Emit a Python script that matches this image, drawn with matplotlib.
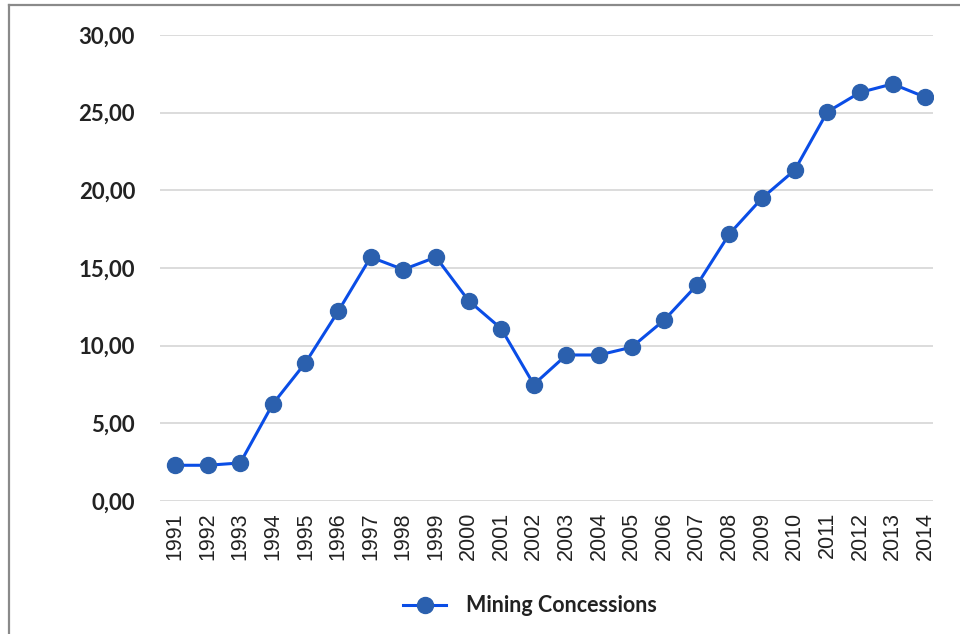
import matplotlib
matplotlib.use("Agg")
import matplotlib.pyplot as plt
from matplotlib.lines import Line2D

years = ["1991", "1992", "1993", "1994", "1995", "1996", "1997", "1998", "1999", "2000",
         "2001", "2002", "2003", "2004", "2005", "2006", "2007", "2008", "2009", "2010",
         "2011", "2012", "2013", "2014"]
values = [2.3, 2.3, 2.45, 6.25, 8.9, 12.2, 15.7, 14.9, 15.7, 12.9,
          11.1, 7.5, 9.4, 9.4, 9.9, 11.65, 13.9, 17.2, 19.5, 21.3,
          25.05, 26.3, 26.85, 26.0]
series_name = "Mining Concessions"
yticks = [0, 5, 10, 15, 20, 25, 30]
ytick_labels = ["0,00", "5,00", "10,00", "15,00", "20,00", "25,00", "30,00"]

fig = plt.figure(figsize=(9.6, 6.34), dpi=100)
ax = fig.add_axes([160/960, 1-501/634, (933-160)/960, (501-35)/634])

x = list(range(len(years)))
line_color = "#0a4de6"
marker_color = "#2b60ae"
ax.plot(x, values, color=line_color, lw=2.2, marker="o", ms=11.5,
        markerfacecolor=marker_color, markeredgecolor=marker_color, zorder=3)

ax.set_ylim(0, 30)
ax.set_xlim(-0.46, 23.24)
ax.set_yticks(yticks)
ax.set_yticklabels(ytick_labels, fontfamily="Lato", fontweight="bold",
                   fontsize=16, color="#222222")
ax.set_xticks(x)
ax.set_xticklabels(years, rotation=90, fontfamily="Liberation Sans",
                   fontsize=15.5, color="#222222")
ax.tick_params(axis="both", length=0)
ax.tick_params(axis="y", pad=18)
ax.tick_params(axis="x", pad=8)
for s in ax.spines.values():
    s.set_visible(False)
ax.grid(axis="y", color="#d9d9d9", lw=1.3)
ax.set_axisbelow(True)

handle = Line2D([0], [0], color=line_color, lw=2.2, marker="o", ms=11.5,
                markerfacecolor=marker_color, markeredgecolor=marker_color)
leg = fig.legend([handle], [series_name], loc="center", bbox_to_anchor=(530/960, 1-606/634),
                 frameon=False, handlelength=2.0, handletextpad=0.9,
                 prop={"family": "Lato", "weight": "bold", "size": 15.5})
for t in leg.get_texts():
    t.set_color("#222222")

# outer border (left and top)
fig.add_artist(Line2D([8.5/960, 8.5/960], [0, 1-4.5/634], transform=fig.transFigure,
                      color="#8a8a8a", lw=1.6))
fig.add_artist(Line2D([8.5/960, 1], [1-4.5/634, 1-4.5/634], transform=fig.transFigure,
                      color="#8a8a8a", lw=1.6))

fig.savefig("out.png", dpi=100)
